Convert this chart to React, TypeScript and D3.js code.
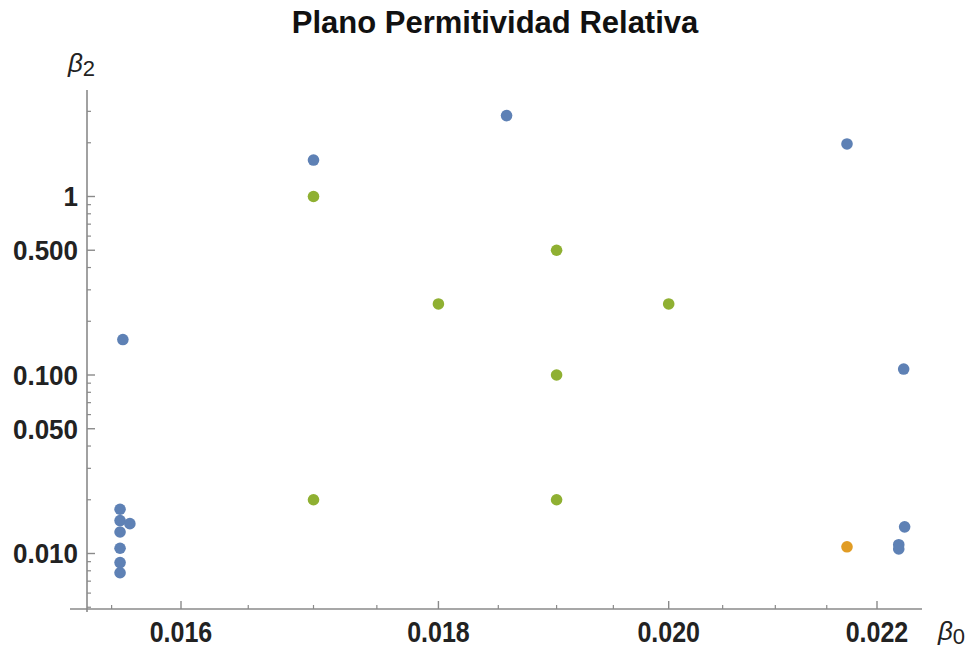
import React from "react";
import * as d3 from "d3";

// Series 1 (blue)
const blueX = [0.01556, 0.01556, 0.01556, 0.01556, 0.01556, 0.01556, 0.01563, 0.01558, 0.017, 0.01857, 0.0217, 0.02227, 0.02228, 0.02222, 0.02222];
const blueY = [0.0177, 0.0153, 0.0132, 0.0107, 0.0089, 0.0078, 0.0147, 0.158, 1.6, 2.84, 1.97, 0.108, 0.0141, 0.0112, 0.0106];
// Series 2 (orange)
const orangeX = [0.0217];
const orangeY = [0.0109];
// Series 3 (green)
const greenX = [0.017, 0.017, 0.018, 0.019, 0.019, 0.019, 0.02];
const greenY = [1, 0.02, 0.25, 0.5, 0.1, 0.02, 0.25];

const xMajor = [0.016, 0.018, 0.02, 0.022];
const xMajorLabels = ["0.016", "0.018", "0.020", "0.022"];
const xMinor = [0.0155, 0.0165, 0.017, 0.0175, 0.0185, 0.019, 0.0195, 0.0205, 0.021, 0.0215];
const yMajor = [1, 0.5, 0.1, 0.05, 0.01];
const yMajorLabels = ["1", "0.500", "0.100", "0.050", "0.010"];
const yMinor = [3, 2, 0.9, 0.8, 0.7, 0.6, 0.4, 0.3, 0.2, 0.09, 0.08, 0.07, 0.06, 0.04, 0.03, 0.02, 0.009, 0.008, 0.007, 0.006, 0.005];

const title = "Plano Permitividad Relativa";

const W = 975, H = 651;
const axisColor = "#8a8a8a";
const font = "'Liberation Sans', Arial, sans-serif";

export default function App() {
  const x = d3.scaleLog().domain([0.016, 0.022]).range([181, 877]);
  const y = d3.scaleLog().domain([1, 0.01]).range([196.5, 553.5]);
  const axisY = 609;
  const axisX = 87;

  const series = [
    { xs: blueX, ys: blueY, color: "#5E81B5" },
    { xs: orangeX, ys: orangeY, color: "#E19C24" },
    { xs: greenX, ys: greenY, color: "#8FB032" },
  ];

  return (
    <svg width={W} height={H} style={{ position: "absolute", left: 0, top: 0, background: "#fff" }}>
      <text x={495} y={33} textAnchor="middle" fontFamily={font} fontWeight="bold" fontSize={31} fill="#111">
        {title}
      </text>
      {/* axes */}
      <line x1={70} x2={922} y1={axisY} y2={axisY} stroke={axisColor} strokeWidth={1.6} />
      <line x1={axisX} x2={axisX} y1={90} y2={612} stroke={axisColor} strokeWidth={1.6} />
      {xMajor.map((v, i) => (
        <g key={"xm" + i}>
          <line x1={x(v)} x2={x(v)} y1={axisY} y2={axisY - 8} stroke={axisColor} strokeWidth={1.4} />
          <text x={x(v)} y={642} textAnchor="middle" fontFamily={font} fontWeight="bold" fontSize={25} fill="#222" transform={`translate(${x(v)},642) scale(1,1.15) translate(${-x(v)},-642)`}>
            {xMajorLabels[i]}
          </text>
        </g>
      ))}
      {xMinor.map((v, i) => (
        <line key={"xn" + i} x1={x(v)} x2={x(v)} y1={axisY} y2={axisY - 4} stroke={axisColor} strokeWidth={1.2} />
      ))}
      {yMajor.map((v, i) => (
        <g key={"ym" + i}>
          <line x1={axisX} x2={axisX + 8} y1={y(v)} y2={y(v)} stroke={axisColor} strokeWidth={1.4} />
          <text x={78} y={y(v) + 10} textAnchor="end" fontFamily={font} fontWeight="bold" fontSize={26} fill="#222" transform={`translate(78,${y(v) + 10}) scale(1,1.08) translate(-78,${-(y(v) + 10)})`}>
            {yMajorLabels[i]}
          </text>
        </g>
      ))}
      {yMinor.map((v, i) => (
        <line key={"yn" + i} x1={axisX} x2={axisX + 4} y1={y(v)} y2={y(v)} stroke={axisColor} strokeWidth={1.2} />
      ))}
      {/* axis labels */}
      <text x={68} y={72} fontFamily={font} fontStyle="italic" fontSize={26} fill="#222">
        β<tspan fontStyle="normal" fontSize={22} dy={4}>2</tspan>
      </text>
      <text x={938} y={640} fontFamily={font} fontStyle="italic" fontSize={26} fill="#222">
        β<tspan fontStyle="normal" fontSize={22} dy={4}>0</tspan>
      </text>
      {/* points */}
      {series.map((s, si) =>
        s.xs.map((xv, i) => (
          <circle key={si + "-" + i} cx={x(xv)} cy={y(s.ys[i])} r={5.8} fill={s.color} />
        ))
      )}
    </svg>
  );
}
